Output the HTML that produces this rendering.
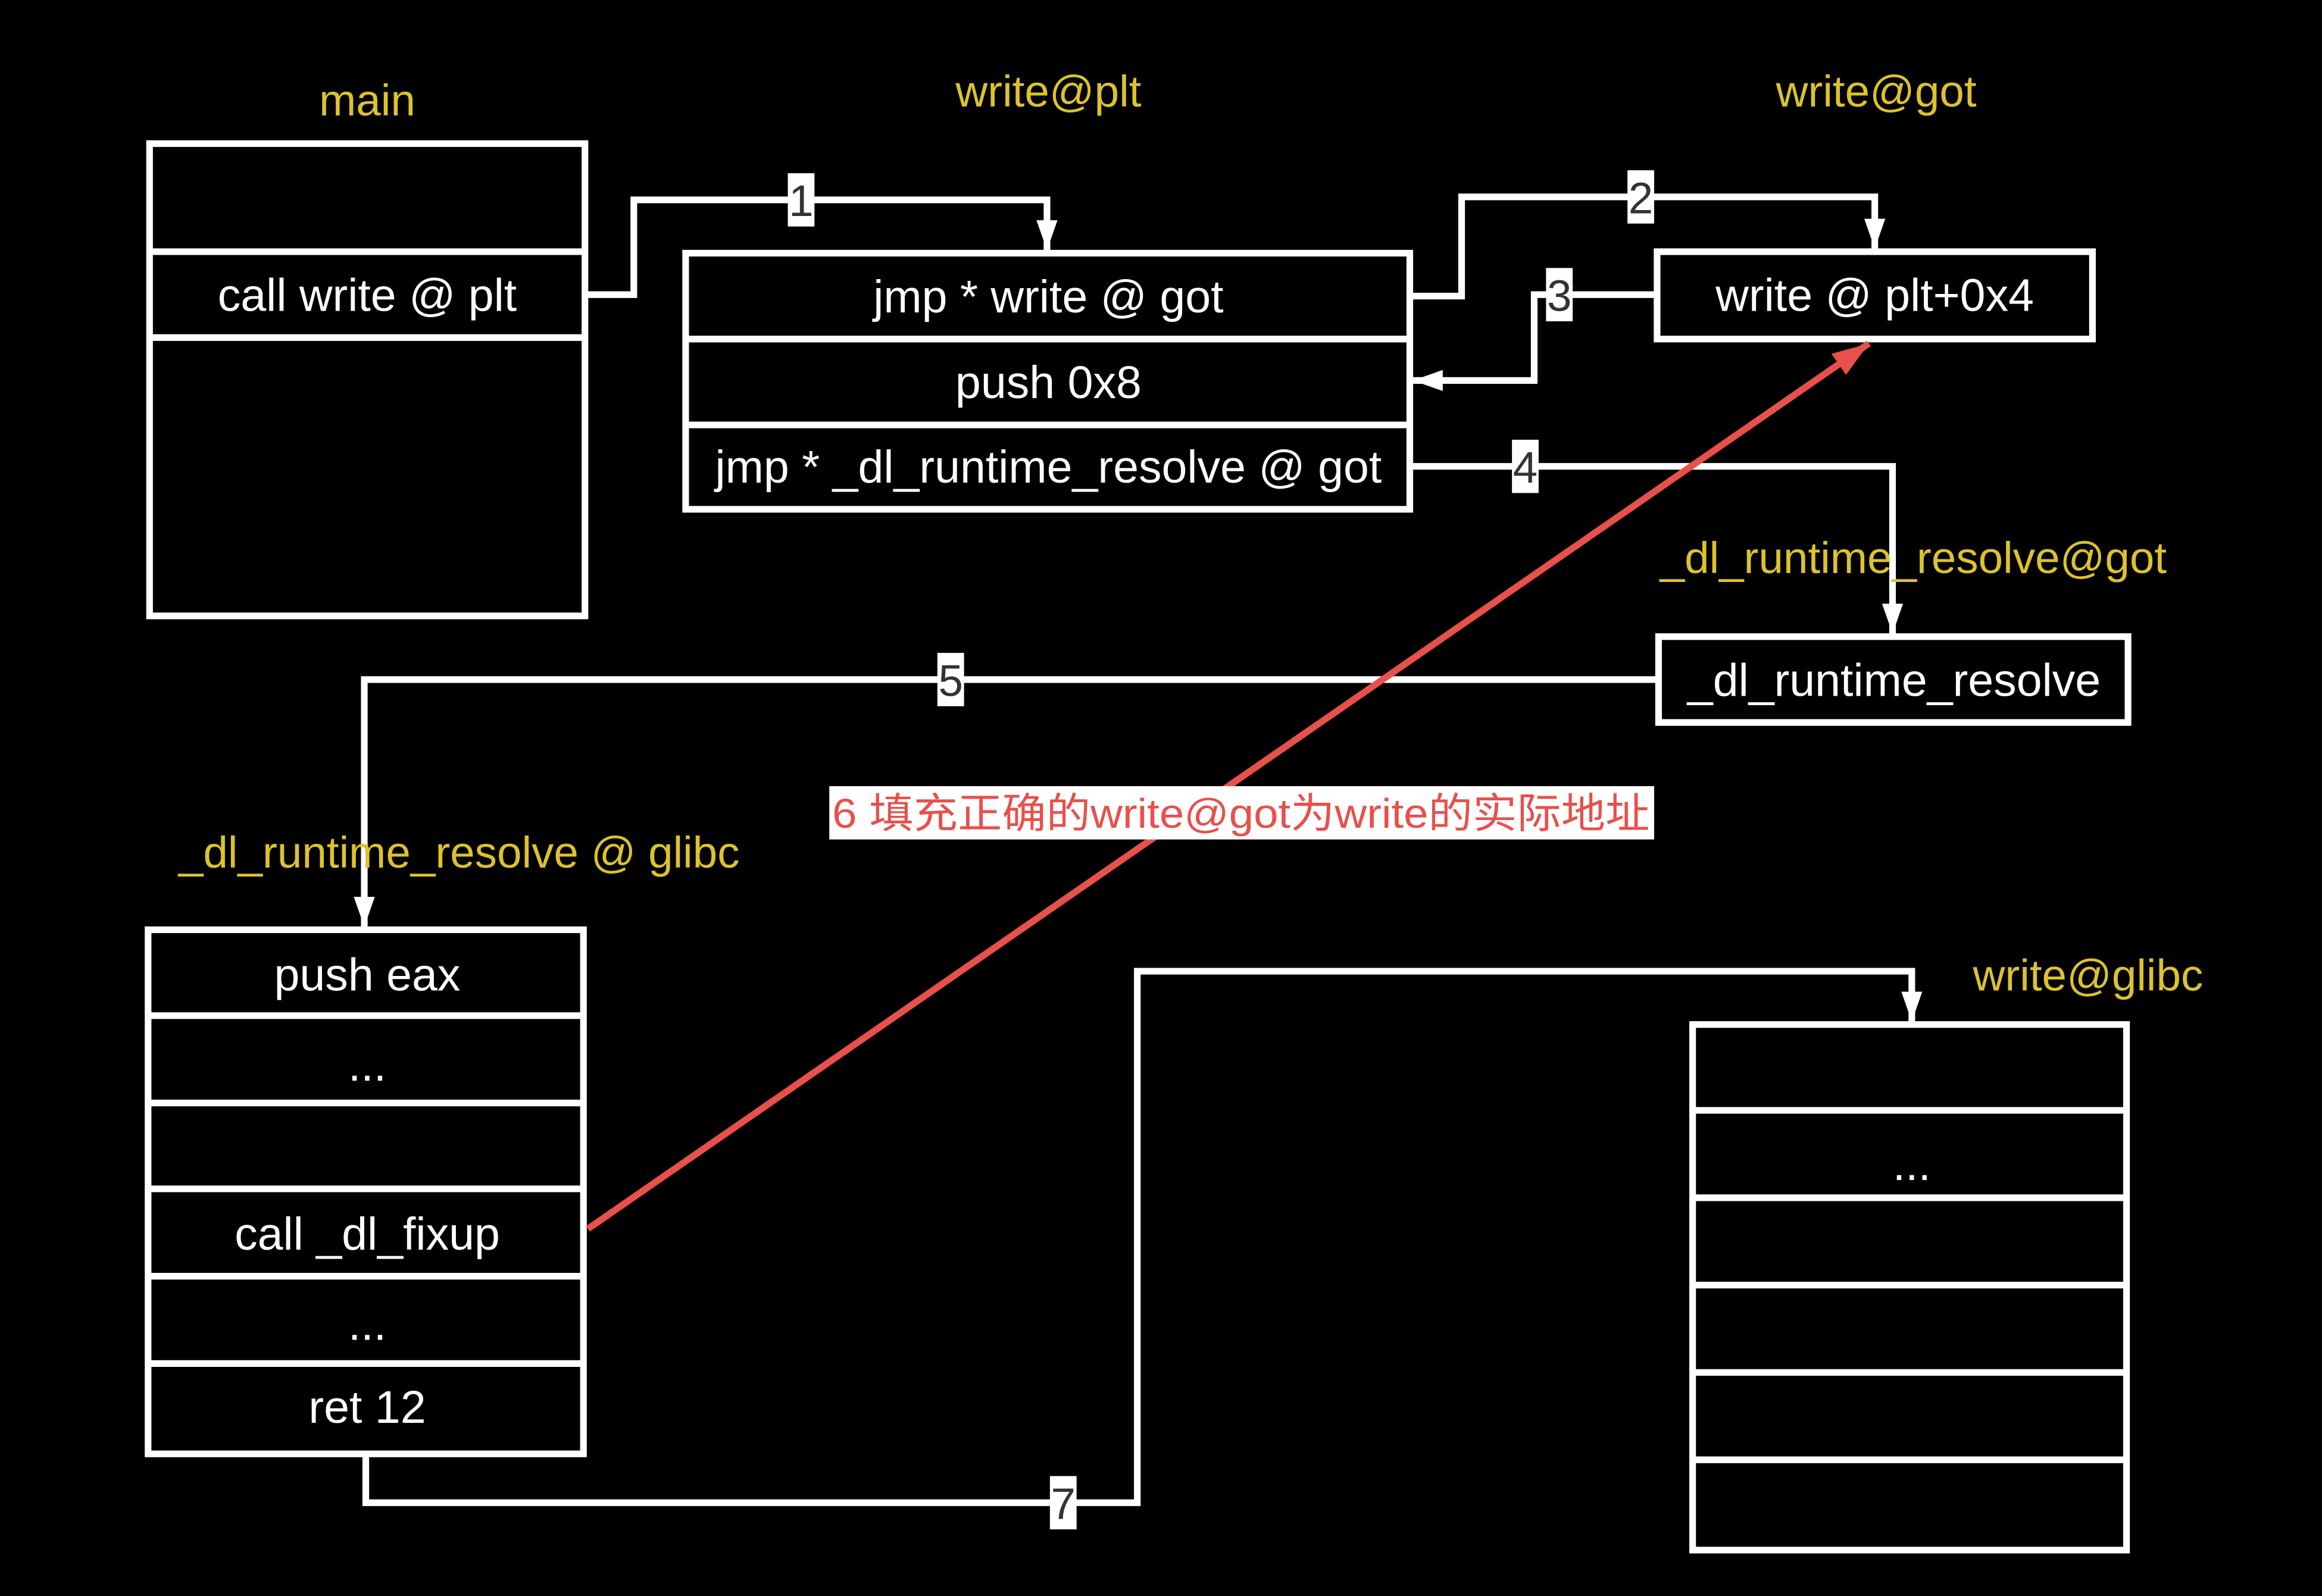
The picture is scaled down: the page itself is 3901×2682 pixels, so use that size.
<!DOCTYPE html>
<html><head><meta charset="utf-8"><style>
html,body{margin:0;padding:0;background:#000;}
svg{display:block;}
text{font-family:"Liberation Sans","Noto Sans CJK SC",sans-serif;}
.w{fill:#fff;font-size:31px;text-anchor:middle;}
.y{fill:#dcc22e;font-size:30px;text-anchor:middle;}
.n{fill:#333;font-size:30px;text-anchor:middle;}
</style></head><body>
<svg width="3901" height="2682" viewBox="0 0 1568 1078" preserveAspectRatio="none" xmlns="http://www.w3.org/2000/svg">
<rect width="1568" height="1078" fill="#000"/>
<defs>
<marker id="a" viewBox="0 0 10 10" refX="10" refY="5" markerWidth="4.5" markerHeight="4.5" orient="auto" markerUnits="strokeWidth"><path d="M0,1.5 L10,5 L0,8.5 Z" fill="#fff"/></marker>
<marker id="r" viewBox="0 0 10 10" refX="10" refY="5" markerWidth="5.5" markerHeight="5.5" orient="auto" markerUnits="strokeWidth"><path d="M0,1.5 L10,5 L0,8.5 Z" fill="#e8504c"/></marker>
</defs>
<g fill="none" stroke="#fff" stroke-width="4.5">
<rect x="101" y="97" width="294" height="319"/>
<line x1="101" y1="170" x2="395" y2="170"/><line x1="101" y1="228" x2="395" y2="228"/>
<rect x="463" y="171" width="489" height="173"/>
<line x1="463" y1="229" x2="952" y2="229"/><line x1="463" y1="287" x2="952" y2="287"/>
<rect x="1119" y="170" width="294" height="59"/>
<rect x="1120" y="430" width="317" height="58"/>
<rect x="100" y="628" width="294" height="354"/>
<line x1="100" y1="686" x2="394" y2="686"/><line x1="100" y1="745" x2="394" y2="745"/>
<line x1="100" y1="803" x2="394" y2="803"/><line x1="100" y1="862" x2="394" y2="862"/>
<line x1="100" y1="921" x2="394" y2="921"/>
<rect x="1143" y="692" width="293" height="355"/>
<line x1="1143" y1="750" x2="1436" y2="750"/><line x1="1143" y1="809" x2="1436" y2="809"/>
<line x1="1143" y1="868" x2="1436" y2="868"/><line x1="1143" y1="927" x2="1436" y2="927"/>
<line x1="1143" y1="986" x2="1436" y2="986"/>
<polyline points="395,199 428,199 428,135 707,135 707,169" marker-end="url(#a)"/>
<polyline points="952,200 987,200 987,133 1266,133 1266,168" marker-end="url(#a)"/>
<polyline points="1119,199 1036,199 1036,257 954,257" marker-end="url(#a)"/>
<polyline points="952,315 1278,315 1278,428" marker-end="url(#a)"/>
<polyline points="1120,459 246,459 246,626" marker-end="url(#a)"/>
<polyline points="247,982 247,1015 768,1015 768,656 1291,656 1291,690" marker-end="url(#a)"/>
</g>
<line x1="397" y1="830" x2="1262" y2="232" stroke="#e8504c" stroke-width="4.5" marker-end="url(#r)"/>
<g fill="#fff">
<rect x="532" y="117" width="18" height="36"/>
<rect x="1099" y="115" width="18" height="36"/>
<rect x="1044" y="181" width="18" height="36"/>
<rect x="1021" y="297" width="18" height="36"/>
<rect x="633" y="441" width="18" height="36"/>
<rect x="709" y="997" width="18" height="36"/>
</g>
<text class="n" x="541" y="146">1</text>
<text class="n" x="1108" y="144">2</text>
<text class="n" x="1053" y="210">3</text>
<text class="n" x="1030" y="326">4</text>
<text class="n" x="642" y="470">5</text>
<text class="n" x="718" y="1026">7</text>
<text class="y" x="248" y="78">main</text>
<text class="y" x="708" y="72">write@plt</text>
<text class="y" x="1267" y="72">write@got</text>
<text class="y" x="1292" y="387">_dl_runtime_resolve@got</text>
<text class="y" x="310" y="586">_dl_runtime_resolve @ glibc</text>
<text class="y" x="1410" y="669">write@glibc</text>
<text class="w" x="248" y="210">call write @ plt</text>
<text class="w" x="708" y="211">jmp * write @ got</text>
<text class="w" x="708" y="269">push 0x8</text>
<text class="w" x="708" y="326">jmp * _dl_runtime_resolve @ got</text>
<text class="w" x="1266" y="210">write @ plt+0x4</text>
<text class="w" x="1279" y="470">_dl_runtime_resolve</text>
<text class="w" x="248" y="669">push eax</text>
<text class="w" x="248" y="730">...</text>
<text class="w" x="248" y="844">call _dl_fixup</text>
<text class="w" x="248" y="905">...</text>
<text class="w" x="248" y="961">ret 12</text>
<text class="w" x="1291" y="797">...</text>
<rect x="560" y="531" width="557" height="36" fill="#fff"/>
<text x="838" y="559" fill="#e8504c" font-size="28" text-anchor="middle" textLength="552" lengthAdjust="spacingAndGlyphs">6 填充正确的write@got为write的实际地址</text>
</svg>
</body></html>
